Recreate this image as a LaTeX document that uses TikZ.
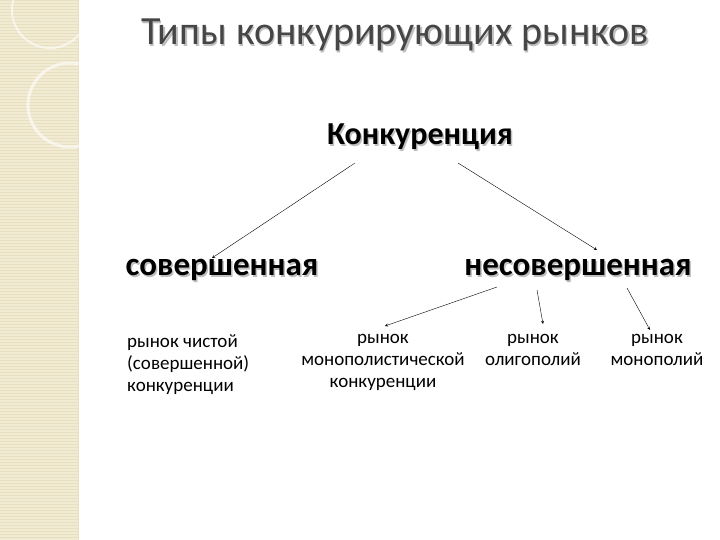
\documentclass[tikz,border=0pt]{standalone}
\usepackage{fontspec}
\setmainfont{Carlito}
\definecolor{strip}{RGB}{242,235,212}
\definecolor{stripline}{RGB}{232,222,192}
\definecolor{titlec}{RGB}{70,70,70}
\begin{document}
\begin{tikzpicture}[x=1pt,y=-1pt,
  shad/.style={text=black!25},
  lbl/.style={font=\fontsize{19}{22}\selectfont, align=center, inner sep=0pt},
  arr/.style={-stealth, thin}]
\useasboundingbox (0,0) rectangle (720,540);
\fill[white] (0,0) rectangle (720,540);
\fill[strip] (0,0) rectangle (78,540);
\foreach \y in {0,3,...,540} \draw[stripline,line width=0.3pt] (0,\y) -- (78,\y);
\draw[stripline,line width=1pt] (78,0) -- (78,540);
\draw[white,line width=3pt,opacity=0.6] (70,105) circle (42);
\draw[white,line width=2pt,opacity=0.6] (50,10) circle (38);
% title
\node[font=\fontsize{40}{44}\selectfont, shad] at (396.5,36.5) {Типы конкурирующих рынков};
\node[font=\fontsize{40}{44}\selectfont, text=titlec] (t) at (395,35) {Типы конкурирующих рынков};
% headings
\node[font=\bfseries\fontsize{32}{34}\selectfont, shad] at (421.5,138.5) {Конкуренция};
\node[font=\bfseries\fontsize{32}{34}\selectfont, inner sep=1pt] (k) at (420,137) {Конкуренция};
\node[font=\bfseries\fontsize{33}{34}\selectfont, shad] at (223.5,271.5) {совершенная};
\node[font=\bfseries\fontsize{33}{34}\selectfont, inner sep=1pt] (s) at (222,270) {совершенная};
\node[font=\bfseries\fontsize{33}{34}\selectfont, shad] at (579.5,271.5) {несовершенная};
\node[font=\bfseries\fontsize{33}{34}\selectfont, inner sep=1pt] (n) at (578,270) {несовершенная};
% leaves
\node[lbl, align=left, anchor=north west] (a) at (127,334) {рынок чистой\\(совершенной)\\конкуренции};
\node[lbl, anchor=north] (b) at (383,334) {рынок\\монополистической\\конкуренции};
\node[lbl, anchor=north] (c) at (533,334) {рынок\\олигополий};
\node[lbl, anchor=north] (d) at (657,334) {рынок\\монополий};
% arrows
\coordinate (k1) at (355,163); \coordinate (k2) at (458,163);
\coordinate (s1) at (212,258); \coordinate (n1) at (597,250);
\coordinate (n2) at (497,287); \coordinate (n3) at (537,290); \coordinate (n4) at (627,288);
\coordinate (b1) at (385,326); \coordinate (c1) at (543,324); \coordinate (d1) at (650,330);
\draw[arr] (k1) -- (s1);
\draw[arr] (k2) -- (n1);
\draw[arr] (n2) -- (b1);
\draw[arr] (n3) -- (c1);
\draw[arr] (n4) -- (d1);
\end{tikzpicture}
\end{document}
